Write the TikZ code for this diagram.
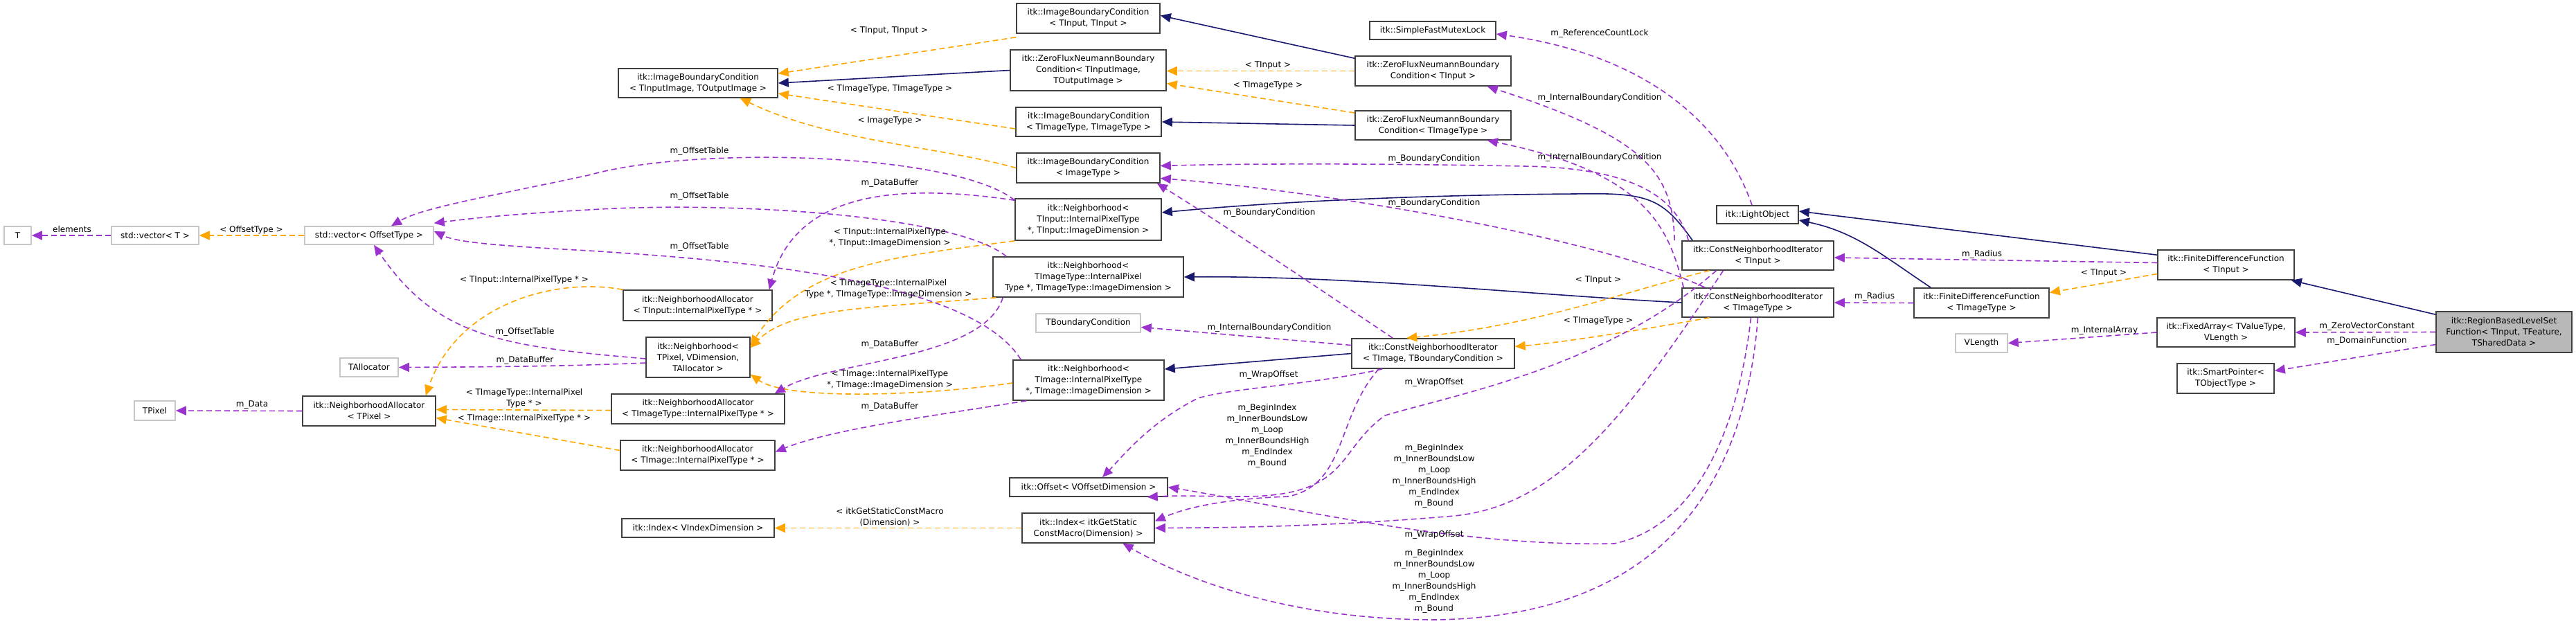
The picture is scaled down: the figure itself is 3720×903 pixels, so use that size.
\documentclass[tikz,border=0pt]{standalone}
\usepackage{fontspec}
\setmainfont{DejaVu Sans}
\usetikzlibrary{arrows.meta}
\definecolor{usec}{HTML}{9A32CD}
\definecolor{tplc}{HTML}{FFA500}
\definecolor{inhc}{HTML}{191970}
\tikzset{
  x=1pt,y=1pt,
  box/.style={draw=black!75,line width=1.6pt,fill=white,inner sep=0pt,align=center,font=\fontsize{12}{16}\selectfont},
  gbox/.style={box,draw=black!22},
  hbox/.style={box,fill=black!28},
  lab/.style={inner sep=0pt,align=center,font=\fontsize{12}{16}\selectfont},
  tip/.style={-{Triangle[length=15pt,width=13pt]}},
  usee/.style={tip,draw=usec,line width=1.6pt,dash pattern=on 8pt off 5pt},
  tple/.style={tip,draw=tplc,line width=1.6pt,dash pattern=on 8pt off 5pt},
  inhe/.style={tip,draw=inhc,line width=1.6pt},
}
\begin{document}
\begin{tikzpicture}
\useasboundingbox (0,0) rectangle (3720,-903);
% nodes
\node[gbox,minimum width=39,minimum height=26] (T) at (25.5,-340) {T};
\node[gbox,minimum width=126,minimum height=26] (vecT) at (224,-340) {std::vector< T >};
\node[gbox,minimum width=186,minimum height=26] (vecO) at (533,-340) {std::vector< OffsetType >};
\node[gbox,minimum width=84,minimum height=27] (TAlloc) at (533,-530.5) {TAllocator};
\node[gbox,minimum width=59,minimum height=28] (TPixel) at (223.5,-593) {TPixel};
\node[box,minimum width=192,minimum height=43] (NAPixel) at (533,-593.5) {itk::NeighborhoodAllocator\\< TPixel >};
\node[box,minimum width=215,minimum height=44] (NAInput) at (1007.5,-441) {itk::NeighborhoodAllocator\\< TInput::InternalPixelType * >};
\node[box,minimum width=150,minimum height=58] (NPixel) at (1008,-516) {itk::Neighborhood<\\ TPixel, VDimension,\\ TAllocator >};
\node[box,minimum width=250,minimum height=43] (NAImageType) at (1008,-590.5) {itk::NeighborhoodAllocator\\< TImageType::InternalPixelType * >};
\node[box,minimum width=223,minimum height=43] (NAImage) at (1007.5,-657.5) {itk::NeighborhoodAllocator\\< TImage::InternalPixelType * >};
\node[box,minimum width=220,minimum height=27] (IdxV) at (1008,-762.5) {itk::Index< VIndexDimension >};
\node[box,minimum width=230,minimum height=42] (IBCio) at (1008,-120) {itk::ImageBoundaryCondition\\< TInputImage, TOutputImage >};
\node[box,minimum width=207,minimum height=43] (IBCii) at (1571.5,-26.5) {itk::ImageBoundaryCondition\\< TInput, TInput >};
\node[box,minimum width=225,minimum height=59] (ZFio) at (1571.5,-101.5) {itk::ZeroFluxNeumannBoundary\\Condition< TInputImage,\\ TOutputImage >};
\node[box,minimum width=210,minimum height=42] (IBCtt) at (1572,-176) {itk::ImageBoundaryCondition\\< TImageType, TImageType >};
\node[box,minimum width=207,minimum height=43] (IBCimg) at (1571.5,-242.5) {itk::ImageBoundaryCondition\\< ImageType >};
\node[box,minimum width=211,minimum height=60] (NInput) at (1571.5,-317) {itk::Neighborhood<\\ TInput::InternalPixelType\\ *, TInput::ImageDimension >};
\node[box,minimum width=275,minimum height=58] (NImageType) at (1571.5,-400) {itk::Neighborhood<\\ TImageType::InternalPixel\\Type *, TImageType::ImageDimension >};
\node[gbox,minimum width=151,minimum height=27] (TBC) at (1571.5,-466.5) {TBoundaryCondition};
\node[box,minimum width=218,minimum height=58] (NImage) at (1572,-549) {itk::Neighborhood<\\ TImage::InternalPixelType\\ *, TImage::ImageDimension >};
\node[box,minimum width=228,minimum height=27] (Offset) at (1572,-703.5) {itk::Offset< VOffsetDimension >};
\node[box,minimum width=191,minimum height=43] (IdxG) at (1571.5,-762.5) {itk::Index< itkGetStatic\\ConstMacro(Dimension) >};
\node[box,minimum width=182,minimum height=26] (Mutex) at (2069,-44) {itk::SimpleFastMutexLock};
\node[box,minimum width=225,minimum height=43] (ZFin) at (2069.5,-102.5) {itk::ZeroFluxNeumannBoundary\\Condition< TInput >};
\node[box,minimum width=225,minimum height=42] (ZFimg) at (2069.5,-181) {itk::ZeroFluxNeumannBoundary\\Condition< TImageType >};
\node[box,minimum width=235,minimum height=43] (CNIim) at (2069.5,-510.5) {itk::ConstNeighborhoodIterator\\< TImage, TBoundaryCondition >};
\node[box,minimum width=118,minimum height=26] (Light) at (2538,-310) {itk::LightObject};
\node[box,minimum width=219,minimum height=42] (CNIin) at (2538.5,-369) {itk::ConstNeighborhoodIterator\\< TInput >};
\node[box,minimum width=219,minimum height=42] (CNIimg) at (2538.5,-437) {itk::ConstNeighborhoodIterator\\< TImageType >};
\node[box,minimum width=197,minimum height=43] (FDFin) at (3214.5,-382.5) {itk::FiniteDifferenceFunction\\< TInput >};
\node[box,minimum width=195,minimum height=43] (FDFimg) at (2861.5,-437.5) {itk::FiniteDifferenceFunction\\< TImageType >};
\node[gbox,minimum width=75,minimum height=27] (VLength) at (2861.5,-495.5) {VLength};
\node[box,minimum width=199,minimum height=42] (Fixed) at (3214.5,-480) {itk::FixedArray< TValueType,\\ VLength >};
\node[box,minimum width=140,minimum height=43] (Smart) at (3214,-546.5) {itk::SmartPointer<\\ TObjectType >};
\node[hbox,minimum width=196,minimum height=59] (Region) at (3616,-479.5) {itk::RegionBasedLevelSet\\Function< TInput, TFeature,\\ TSharedData >};

% inheritance
\draw[inhe] (ZFio.west) -- (IBCio.east);
\draw[inhe] ([yshift=-4]ZFin.north west) -- ([yshift=4]IBCii.east);
\draw[inhe] (ZFimg.west) -- (IBCtt.east);
\draw[inhe] ([xshift=16]CNIin.north west) .. controls (2400,-285) and (2380,-278) .. (2274,-280) .. controls (2000,-282) and (1800,-295) .. ([yshift=10]NInput.east);
\draw[inhe] (CNIimg.west) .. controls (2200,-425) and (1950,-398) .. (NImageType.east);
\draw[inhe] (CNIim.west) -- ([yshift=16]NImage.east);
\draw[inhe] ([yshift=-8]FDFin.north west) -- ([yshift=5]Light.east);
\draw[inhe] ([xshift=25]FDFimg.north west) .. controls (2720,-370) and (2680,-335) .. ([yshift=-8]Light.east);
\draw[inhe] ([yshift=-5]Region.north west) -- ([xshift=-5]FDFin.south east);

% template instantiation
\draw[tple] ([yshift=-5]IBCii.south west) -- ([yshift=-8]IBCio.north east);
\draw[tple] ([yshift=-10]IBCtt.west) -- ([yshift=-15]IBCio.east);
\draw[tple] (IBCimg.west) .. controls (1350,-210) and (1200,-205) .. ([xshift=-55]IBCio.south east);
\draw[tple] (ZFin.west) -- ([yshift=-1]ZFio.east);
\draw[tple] ([yshift=18]ZFimg.west) -- ([yshift=-19]ZFio.east);
\draw[tple] (vecO.west) -- (vecT.east);
\draw[tple] (NAInput.north west) .. controls (800,-400) and (660,-440) .. ([xshift=-15]NAPixel.north east);
\draw[tple] ([yshift=-2]NAImageType.west) -- ([yshift=2]NAPixel.east);
\draw[tple] ([yshift=7]NAImage.west) -- ([yshift=-10]NAPixel.east);
\draw[tple] (NInput.south west) .. controls (1300,-370) and (1160,-380) .. ([yshift=-13]NPixel.north east);
\draw[tple] ([xshift=5]NImageType.south west) .. controls (1250,-445) and (1140,-445) .. ([yshift=-16]NPixel.north east);
\draw[tple] ([yshift=-4]NImage.west) .. controls (1350,-570) and (1140,-580) .. ([yshift=5]NPixel.south east);
\draw[tple] (IdxG.west) -- (IdxV.east);
\draw[tple] ([xshift=-70]CNIin.south) .. controls (2350,-420) and (2220,-470) .. ([xshift=80]CNIim.north west);
\draw[tple] ([xshift=-70]CNIimg.south) .. controls (2350,-480) and (2250,-495) .. ([yshift=10]CNIim.east);
\draw[tple] ([yshift=-13]FDFin.west) -- ([yshift=15]FDFimg.east);

% usage
\draw[usee] (vecT.west) -- (T.east);
\draw[usee] (NAPixel.west) -- (TPixel.east);
\draw[usee] ([yshift=-8]NPixel.west) .. controls (800,-530) and (650,-530) .. (TAlloc.east);
\draw[usee] ([yshift=-2]NPixel.west) .. controls (720,-500) and (630,-485) .. ([xshift=7]vecO.south);
\draw[usee] ([yshift=-3]NInput.north west) .. controls (1380,-220) and (1000,-210) .. (850,-253) .. controls (700,-285) and (610,-300) .. ([xshift=32]vecO.north);
\draw[usee] ([xshift=20]NImageType.north west) .. controls (1380,-310) and (1050,-290) .. (850,-303) .. controls (720,-310) and (660,-318) .. ([yshift=4]vecO.north east);
\draw[usee] ([xshift=12]NImage.north west) .. controls (1400,-400) and (1050,-375) .. (850,-362) .. controls (720,-355) and (660,-350) .. ([yshift=6]vecO.east);
\draw[usee] ([yshift=-3]NInput.north west) .. controls (1300,-265) and (1150,-275) .. ([xshift=-5]NAInput.north east);
\draw[usee] ([xshift=15]NImageType.south west) .. controls (1420,-520) and (1200,-520) .. ([xshift=-15]NAImageType.north east);
\draw[usee] ([xshift=20]NImage.south west) .. controls (1350,-600) and (1200,-620) .. ([yshift=5]NAImage.east);
\draw[usee] ([yshift=12]CNIim.west) -- ([yshift=-6]TBC.east);
\draw[usee] ([xshift=45]CNIim.south west) .. controls (1900,-555) and (1780,-560) .. (1730,-575) .. controls (1660,-610) and (1620,-660) .. ([xshift=20]Offset.north);
\draw[usee] ([xshift=40]CNIim.south west) .. controls (1930,-600) and (1945,-700) .. (1860,-717) .. controls (1780,-720) and (1720,-730) .. ([yshift=10]IdxG.east);
\draw[usee] ([xshift=-60]CNIin.south) .. controls (2320,-530) and (2100,-570) .. (2000,-600) .. controls (1930,-650) and (1950,-715) .. (1800,-717) .. controls (1740,-717) and (1710,-715) .. ([xshift=-30]Offset.south east);
\draw[usee] ([xshift=-50]CNIin.south) .. controls (2350,-600) and (2250,-730) .. (2100,-745) .. controls (1900,-762) and (1750,-762) .. (IdxG.east);
\draw[usee] ([xshift=-10]CNIimg.south) .. controls (2510,-620) and (2450,-760) .. (2331,-785) .. controls (2100,-790) and (1850,-730) .. (Offset.east);
\draw[usee] (CNIimg.south) .. controls (2520,-700) and (2400,-890) .. (2073,-895) .. controls (1850,-895) and (1700,-830) .. ([xshift=50]IdxG.south);
\draw[usee] ([xshift=10]CNIin.north west) .. controls (2420,-280) and (2350,-242) .. (2200,-240) .. controls (2000,-236) and (1800,-236) .. ([yshift=3]IBCimg.east);
\draw[usee] ([xshift=34]CNIimg.north west) .. controls (2300,-340) and (1900,-275) .. ([yshift=-15]IBCimg.east);
\draw[usee] ([xshift=60]CNIim.north west) .. controls (1880,-400) and (1760,-320) .. ([xshift=-5]IBCimg.south east);
\draw[usee] ([xshift=-10]CNIin.north west) .. controls (2415,-250) and (2380,-200) .. ([xshift=-35]ZFin.south east);
\draw[usee] ([xshift=3]CNIimg.north west) .. controls (2410,-330) and (2380,-250) .. ([xshift=-35]ZFimg.south east);
\draw[usee] ([xshift=-8]Light.north) .. controls (2490,-180) and (2380,-80) .. ([yshift=-5]Mutex.east);
\draw[usee] ([yshift=3]FDFin.west) -- ([yshift=-3]CNIin.east);
\draw[usee] (FDFimg.west) -- (CNIimg.east);
\draw[usee] (Fixed.west) -- (VLength.east);
\draw[usee] (Region.west) -- (Fixed.east);
\draw[usee] ([yshift=-18]Region.west) -- ([yshift=11]Smart.east);

% labels
\node[lab] (l1) at (104,-331) {elements};
\node[lab] (l2) at (363,-332) {< OffsetType >};
\node[lab] (l3) at (364,-585) {m\_Data};
\node[lab] (l4) at (757,-404) {< TInput::InternalPixelType * >};
\node[lab] (l5) at (758,-479) {m\_OffsetTable};
\node[lab] (l6) at (758,-520) {m\_DataBuffer};
\node[lab] (l7) at (757,-575) {< TImageType::InternalPixel\\Type * >};
\node[lab] (l8) at (757,-604) {< TImage::InternalPixelType * >};
\node[lab] (l9) at (1284,-44) {< TInput, TInput >};
\node[lab] (l10) at (1285,-128) {< TImageType, TImageType >};
\node[lab] (l11) at (1285,-174) {< ImageType >};
\node[lab] (l12) at (1010,-218) {m\_OffsetTable};
\node[lab] (l13) at (1285,-264) {m\_DataBuffer};
\node[lab] (l14) at (1010,-283) {m\_OffsetTable};
\node[lab] (l15) at (1285,-343) {< TInput::InternalPixelType\\*, TInput::ImageDimension >};
\node[lab] (l16) at (1010,-356) {m\_OffsetTable};
\node[lab] (l17) at (1283,-417) {< TImageType::InternalPixel\\Type *, TImageType::ImageDimension >};
\node[lab] (l18) at (1285,-497) {m\_DataBuffer};
\node[lab] (l19) at (1285,-548) {< TImage::InternalPixelType\\*, TImage::ImageDimension >};
\node[lab] (l20) at (1285,-587) {m\_DataBuffer};
\node[lab] (l21) at (1285,-747) {< itkGetStaticConstMacro\\(Dimension) >};
\node[lab] (l22) at (2310,-48) {m\_ReferenceCountLock};
\node[lab] (l23) at (1831,-94) {< TInput >};
\node[lab] (l24) at (1831,-123) {< TImageType >};
\node[lab] (l25) at (2310,-141) {m\_InternalBoundaryCondition};
\node[lab] (l26) at (2071,-229) {m\_BoundaryCondition};
\node[lab] (l27) at (2310,-227) {m\_InternalBoundaryCondition};
\node[lab] (l28) at (2071,-293) {m\_BoundaryCondition};
\node[lab] (l29) at (1833,-307) {m\_BoundaryCondition};
\node[lab] (l30) at (2308,-404) {< TInput >};
\node[lab] (l31) at (2308,-463) {< TImageType >};
\node[lab] (l32) at (1833,-473) {m\_InternalBoundaryCondition};
\node[lab] (l33) at (1832,-541) {m\_WrapOffset};
\node[lab] (l34) at (1830,-629) {m\_BeginIndex\\m\_InnerBoundsLow\\m\_Loop\\m\_InnerBoundsHigh\\m\_EndIndex\\m\_Bound};
\node[lab] (l35) at (2071,-552) {m\_WrapOffset};
\node[lab] (l36) at (2071,-687) {m\_BeginIndex\\m\_InnerBoundsLow\\m\_Loop\\m\_InnerBoundsHigh\\m\_EndIndex\\m\_Bound};
\node[lab] (l37) at (2071,-772) {m\_WrapOffset};
\node[lab] (l38) at (2071,-839) {m\_BeginIndex\\m\_InnerBoundsLow\\m\_Loop\\m\_InnerBoundsHigh\\m\_EndIndex\\m\_Bound};
\node[lab] (l39) at (2862,-367) {m\_Radius};
\node[lab] (l40) at (3038,-394) {< TInput >};
\node[lab] (l41) at (2707,-428) {m\_Radius};
\node[lab] (l42) at (3039,-477) {m\_InternalArray};
\node[lab] (l43) at (3418,-471) {m\_ZeroVectorConstant};
\node[lab] (l44) at (3418,-492) {m\_DomainFunction};
\end{tikzpicture}
\end{document}
